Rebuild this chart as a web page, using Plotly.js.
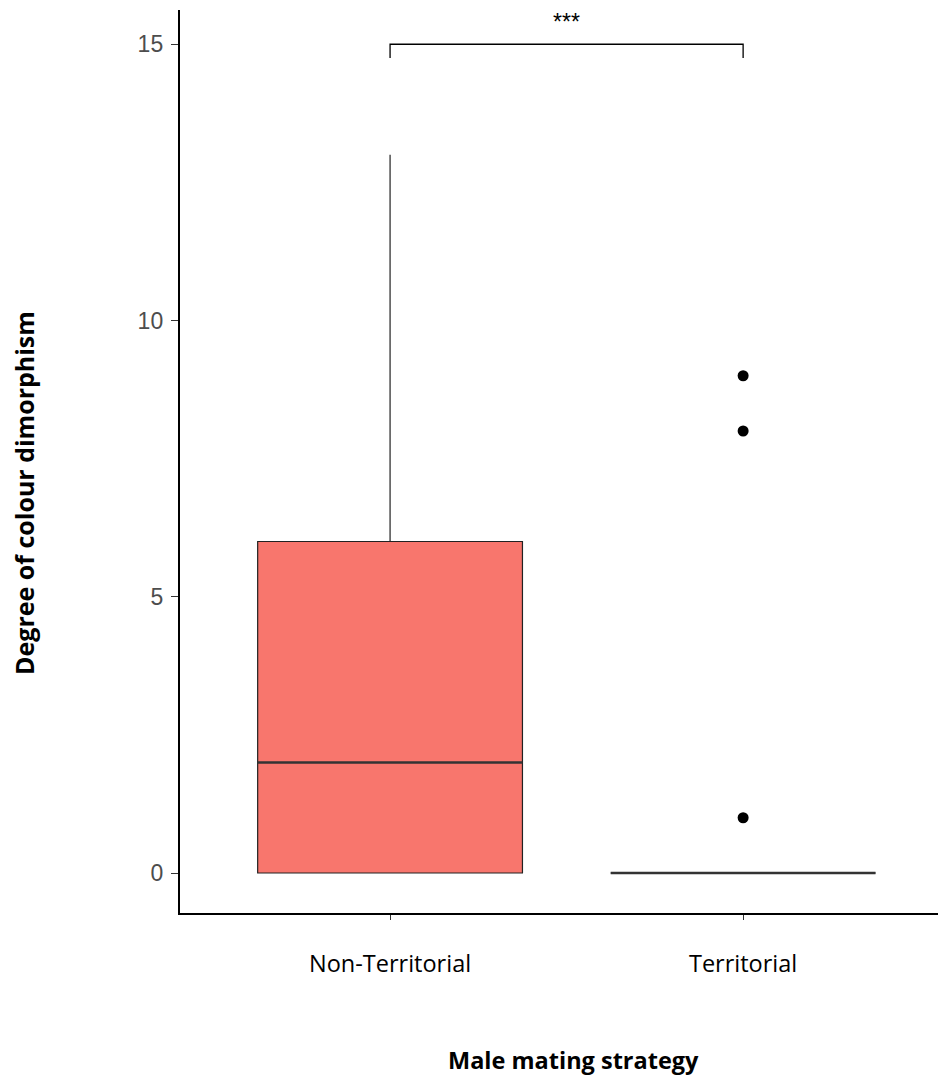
<!DOCTYPE html>
<html><head><meta charset="utf-8">
<script src="https://cdn.plot.ly/plotly-3.0.1.min.js"></script>
<style>html,body{margin:0;padding:0;background:#fff}#chart{width:938px;height:1080px}</style>
</head><body><div id="chart"></div>
<script>
const categories = ['Non-Territorial', 'Territorial'];
const q1 = [0, 0];
const medians = [2, 0];
const q3 = [6, 0];
const lowerWhisker = [0, 0];
const upperWhisker = [13, 0];
const outlierX = ['Territorial', 'Territorial', 'Territorial'];
const outlierY = [9, 8, 1];
const fills = ['#F8766D', '#00BFC4'];
const bracketX = ['Non-Territorial', 'Non-Territorial', 'Territorial', 'Territorial'];
const bracketY = [14.75, 15, 15, 14.75];
const sigLabel = '***';

const traces = [];
categories.forEach((c, i) => {
  traces.push({
    type: 'box', x: [c], q1: [q1[i]], median: [medians[i]], q3: [q3[i]],
    lowerfence: [lowerWhisker[i]], upperfence: [upperWhisker[i]],
    fillcolor: fills[i], line: {color: '#222222', width: 1.2},
    width: 0.75, whiskerwidth: 0, boxpoints: false, hoverinfo: 'skip', showlegend: false
  });
  traces.push({
    type: 'box', x: [c], q1: [medians[i]], median: [medians[i]], q3: [medians[i]],
    lowerfence: [medians[i]], upperfence: [medians[i]],
    fillcolor: 'rgba(0,0,0,0)', line: {color: '#333333', width: 2.6},
    width: 0.75, whiskerwidth: 0, boxpoints: false, hoverinfo: 'skip', showlegend: false
  });
});
traces.push({type: 'scatter', mode: 'markers', x: outlierX, y: outlierY,
  marker: {color: '#000', size: 11}, showlegend: false, hoverinfo: 'skip'});
traces.push({type: 'scatter', mode: 'lines', x: bracketX, y: bracketY,
  line: {color: '#000', width: 1.3}, showlegend: false, hoverinfo: 'skip'});

const layout = {
  width: 938, height: 1080,
  margin: {l: 180, r: 0, t: 10, b: 167},
  paper_bgcolor: '#fff', plot_bgcolor: '#fff',
  boxmode: 'overlay', showlegend: false,
  xaxis: {type: 'category', categoryarray: categories, range: [-0.595, 1.552],
    showgrid: false, zeroline: false, showline: true, linecolor: '#000', linewidth: 2.2,
    ticks: 'outside', ticklen: 5, tickcolor: '#333', tickwidth: 1,
    ticklabelstandoff: 24,
    tickfont: {family: 'Open Sans, sans-serif', size: 23.5, color: '#000'}},
  yaxis: {range: [-0.724, 15.62], tickvals: [0, 5, 10, 15], ticktext: ['0','5','10','15'],
    showgrid: false, zeroline: false, showline: true, linecolor: '#000', linewidth: 2.2,
    ticks: 'outside', ticklen: 7, tickcolor: '#333', tickwidth: 1,
    ticklabelstandoff: 3,
    tickfont: {family: 'Liberation Sans, Arial, sans-serif', size: 23, color: '#4D4D4D'}},
  annotations: [
    {text: sigLabel, x: 0.5, y: 15.4, xref: 'x', yref: 'y', showarrow: false,
     font: {family: 'Liberation Sans, Arial, sans-serif', size: 23, color: '#000'}},
    {text: '<b>Male mating strategy</b>', x: 0, y: 0, xref: 'paper', yref: 'paper',
     showarrow: false, font: {family: 'Open Sans, sans-serif', size: 23.5, color: '#000'}},
    {text: '<b>Degree of colour dimorphism</b>', textangle: -90, showarrow: false,
     xref: 'paper', yref: 'paper', x: 0, y: 0,
     font: {family: 'Open Sans, sans-serif', size: 25, color: '#000'}}
  ]
};
// place titles in pixel terms via paper fractions
const pw = 938 - 180, ph = 1080 - 10 - 167;
layout.annotations[1].x = (573 - 180) / pw;
layout.annotations[1].y = (913 - 1060) / ph;
layout.annotations[1].yanchor = 'middle';
layout.annotations[1].xanchor = 'center';
layout.annotations[2].x = (24 - 180) / pw;
layout.annotations[2].y = (913 - 493) / ph;
layout.annotations[2].xanchor = 'center';
layout.annotations[2].yanchor = 'middle';
Plotly.newPlot('chart', traces, layout, {staticPlot: true});
</script></body></html>
